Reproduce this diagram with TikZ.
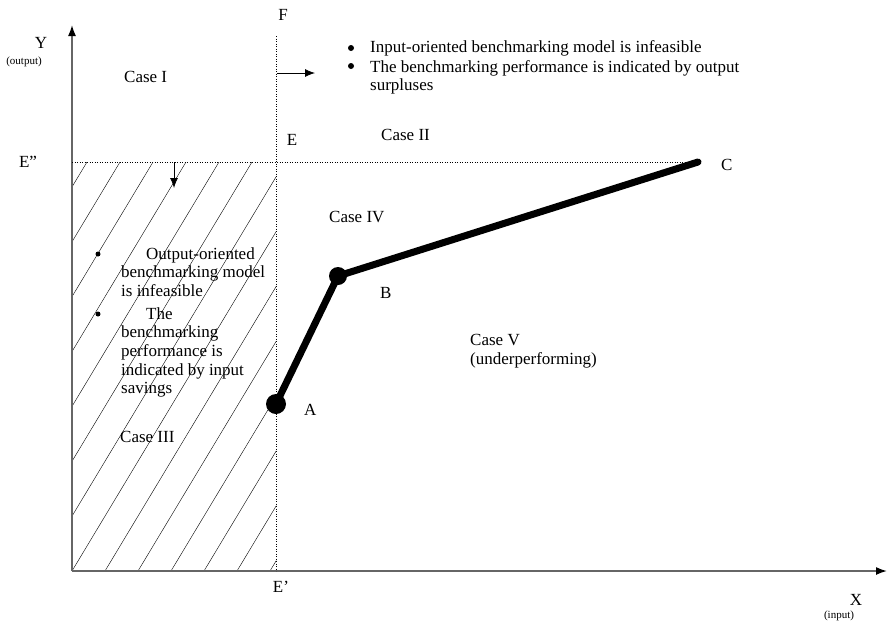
\documentclass[tikz,border=0pt]{standalone}
\usepackage{fontspec}
\setmainfont{Liberation Serif}
\usetikzlibrary{arrows.meta}

\begin{document}
\begin{tikzpicture}[
    x=1pt, y=-1pt,
    axis/.style={draw=black!60, line width=1.6pt, -{Latex[length=11pt,width=8pt,black]}},
    guide/.style={dotted, line width=0.5pt},
    frontier/.style={line width=7pt, line cap=round, line join=round},
    dmu/.style={circle, fill=black, inner sep=0pt, minimum size=#1},
    dot/.style={circle, fill=black, inner sep=0pt, minimum size=#1},
    lbl/.style={font=\fontsize{17}{18.7}\selectfont, inner sep=0pt},
    small/.style={font=\fontsize{11}{12}\selectfont, inner sep=0pt},
    pointer/.style={-{Latex[length=10pt,width=8pt]}, line width=0.8pt},
    hatch/.style={line width=0.4pt}
]
\useasboundingbox (0,0) rectangle (887,625);

% axes and reference lines
\coordinate (O) at (72,571);
\coordinate (ytip) at (72,25);
\coordinate (xtip) at (887,571);
\coordinate (Ftop) at (276,36);
\coordinate (Ebot) at (276,571);
\coordinate (Eleft) at (72,162);

% hatched region (case III)
\begin{scope}
\clip (72,162) rectangle (276,571);
\foreach \k in {-7,...,6}
    \draw[hatch] (72+33*\k,571) -- (318+33*\k,162);
\end{scope}

\draw[axis] (O) -- (ytip);
\draw[axis] (O) -- (xtip);
\draw[guide] (Ftop) -- (Ebot);

% frontier
\node[dmu=20pt] (A) at (276,404) {};
\node[dmu=18pt] (B) at (338,276) {};
\coordinate (C) at (698,162);
\draw[guide] (Eleft) -- (C);
\draw[frontier] (A.center) -- (B.center) -- (C);

% direction arrows
\coordinate (rs) at (277,73);
\coordinate (re) at (315,73);
\coordinate (ds) at (174,162);
\coordinate (de) at (174,188);
\draw[pointer] (rs) -- (re);
\draw[pointer] (ds) -- (de);

% axis and point labels
\node[lbl] (ylab) at (41,43) {Y};
\node[small] (ysub) at (24,62) {(output)};
\node[lbl] (xlab) at (856,600) {X};
\node[small] (xsub) at (839,616) {(input)};
\node[lbl] (flab) at (283,15) {F};
\node[lbl] (elab) at (292,140) {E};
\node[lbl] (e2lab) at (28,162) {E”};
\node[lbl] (e1lab) at (281,587) {E’};
\node[lbl, anchor=west] (alab) at (304,410) {A};
\node[lbl, anchor=west] (blab) at (380,293) {B};
\node[lbl, anchor=west] (clab) at (721,165) {C};

% case labels
\node[lbl, anchor=west] (case1) at (124,77) {Case I};
\node[lbl, anchor=west] (case2) at (381,135) {Case II};
\node[lbl, anchor=west] (case4) at (329,217) {Case IV};
\node[lbl, anchor=west, align=left] (case5) at (470,351) {Case V\\(underperforming)};
\node[lbl, anchor=west] (case3) at (120,437) {Case III};

% notes
\node[dot=6pt] (tb1) at (351,48) {};
\node[dot=6pt] (tb2) at (351,66) {};
\node[lbl, anchor=west] (tnote1) at (370,48) {Input-oriented benchmarking model is infeasible};
\node[lbl, anchor=north west, align=left] (tnote2) at (370,60) {The benchmarking performance is indicated by output\\surpluses};
\node[dot=5pt] (hb1) at (98,254) {};
\node[dot=5pt] (hb2) at (98,314) {};
\node[lbl, anchor=north west, align=left] (hnote) at (121,247) {\hspace*{25pt}Output-oriented\\benchmarking model\\is infeasible\\[4pt]\hspace*{25pt}The\\benchmarking\\performance is\\indicated by input\\savings};
\end{tikzpicture}
\end{document}
